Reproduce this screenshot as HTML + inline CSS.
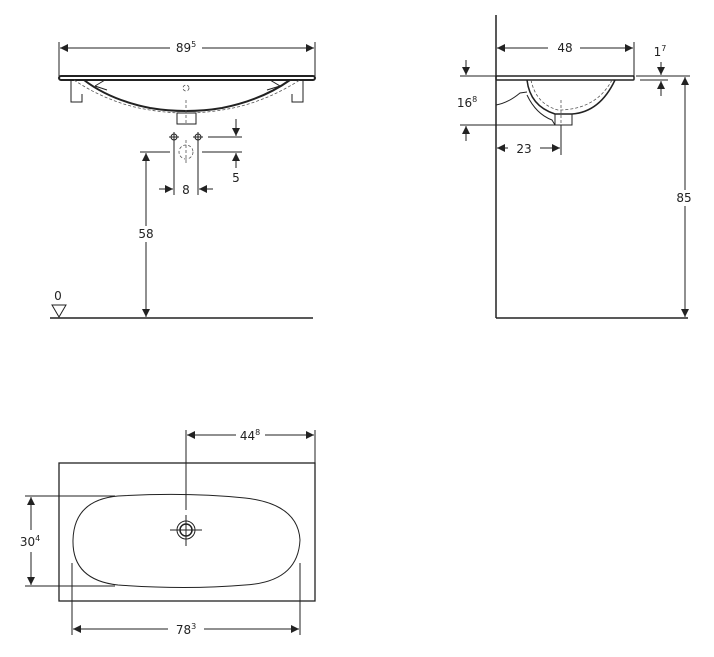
<!DOCTYPE html>
<html><head><meta charset="utf-8"><style>
html,body{margin:0;padding:0;background:#fff}
svg{display:block}
text{font-family:"DejaVu Sans","Liberation Sans",sans-serif;font-size:12px;fill:#222}
.t{stroke:#222;stroke-width:1;fill:none}
.k{stroke:#222;stroke-width:2;fill:none}
.d{stroke:#555;stroke-width:0.8;fill:none;stroke-dasharray:3 2}
</style></head><body>
<svg width="714" height="657" viewBox="0 0 714 657">
<defs>
<marker id="a" viewBox="0 0 10 10" refX="10" refY="5" markerWidth="10" markerHeight="8" orient="auto-start-reverse" markerUnits="userSpaceOnUse"><path d="M0,0L10,5L0,10z" fill="#222"/></marker>
</defs>
<rect width="714" height="657" fill="#fff"/>

<!-- FRONT VIEW -->
<line class="t" x1="59" y1="42" x2="59" y2="76"/><line class="t" x1="315" y1="42" x2="315" y2="76"/>
<line class="t" x1="60" y1="48" x2="170" y2="48" marker-start="url(#a)"/>
<line class="t" x1="202" y1="48" x2="314" y2="48" marker-end="url(#a)"/>
<text x="186" y="52" text-anchor="middle">89<tspan font-size="8" dy="-5">5</tspan></text>
<rect class="k" x="59" y="76" width="256" height="4" rx="2"/>
<path class="k" d="M84,80 Q110,100 150,108 Q186,114 222,108 Q262,100 290,80"/>
<path class="d" d="M74,80 Q110,104 150,110 Q186,116 222,110 Q262,104 300,80"/>
<path class="t" d="M71,80 L71,102 L82,102 L82,94 M68,100 M95,86 L105,80 M95,86 L107,90" />
<path class="t" d="M292,94 L292,102 L303,102 L303,80 M267,90 L280,86 L270,80"/>
<rect class="t" x="177" y="113" width="19" height="11"/>
<circle class="d" cx="186" cy="88" r="3"/>
<line class="d" x1="186" y1="100" x2="186" y2="124"/>
<g class="t"><circle cx="174" cy="137" r="3"/><line x1="169" y1="137" x2="179" y2="137"/><line x1="174" y1="132" x2="174" y2="142"/>
<circle cx="198" cy="137" r="3"/><line x1="193" y1="137" x2="203" y2="137"/><line x1="198" y1="132" x2="198" y2="142"/></g>
<circle class="d" cx="186" cy="152" r="7"/><line class="d" x1="186" y1="140" x2="186" y2="165"/>
<line class="t" x1="208" y1="137" x2="242" y2="137"/>
<line class="t" x1="236" y1="119" x2="236" y2="136" marker-end="url(#a)"/>
<line class="t" x1="140" y1="152" x2="170" y2="152"/><line class="t" x1="202" y1="152" x2="242" y2="152"/>
<line class="t" x1="236" y1="168" x2="236" y2="153" marker-end="url(#a)"/>
<text x="236" y="182" text-anchor="middle">5</text>
<line class="t" x1="174" y1="142" x2="174" y2="195"/><line class="t" x1="198" y1="142" x2="198" y2="195"/>
<line class="t" x1="159" y1="189" x2="173" y2="189" marker-end="url(#a)"/>
<line class="t" x1="213" y1="189" x2="199" y2="189" marker-end="url(#a)"/>
<text x="186" y="194" text-anchor="middle">8</text>
<line class="t" x1="146" y1="153" x2="146" y2="226" marker-start="url(#a)"/>
<line class="t" x1="146" y1="242" x2="146" y2="317" marker-end="url(#a)"/>
<text x="146" y="238" text-anchor="middle">58</text>
<line class="k" x1="50" y1="318" x2="313" y2="318" style="stroke-width:1.5"/>
<text x="58" y="300" text-anchor="middle">0</text>
<path class="t" d="M52,305 L66,305 L59,317 Z"/>

<!-- SIDE VIEW -->
<line class="k" x1="496" y1="15" x2="496" y2="318" style="stroke-width:1.5"/>
<line class="k" x1="496" y1="318" x2="688" y2="318" style="stroke-width:1.5"/>
<line class="t" x1="497" y1="48" x2="548" y2="48" marker-start="url(#a)"/>
<line class="t" x1="580" y1="48" x2="633" y2="48" marker-end="url(#a)"/>
<line class="t" x1="634" y1="42" x2="634" y2="76"/>
<text x="565" y="52" text-anchor="middle">48</text>
<rect class="k" x="496" y="76" width="138" height="4" rx="1" style="stroke-width:1.5"/>
<path class="k" d="M527,80 Q530,106 555,114 L572,114 Q600,112 615,80" style="stroke-width:1.5"/>
<path class="d" d="M531,80 Q536,104 558,110 Q596,110 612,80"/>
<path class="t" d="M496,105 Q508,103 520,93 L527,92"/>
<path class="t" d="M527,95 Q536,114 552,120 L555,125"/>
<rect class="t" x="555" y="114" width="17" height="11"/>
<line class="d" x1="561" y1="100" x2="561" y2="125"/>
<line class="t" x1="561" y1="125" x2="561" y2="155"/>
<line class="t" x1="497" y1="148" x2="508" y2="148" marker-start="url(#a)"/>
<line class="t" x1="540" y1="148" x2="560" y2="148" marker-end="url(#a)"/>
<text x="524" y="153" text-anchor="middle">23</text>
<line class="t" x1="460" y1="76" x2="496" y2="76"/>
<line class="t" x1="460" y1="125" x2="555" y2="125"/>
<line class="t" x1="466" y1="60" x2="466" y2="75" marker-end="url(#a)"/>
<line class="t" x1="466" y1="141" x2="466" y2="126" marker-end="url(#a)"/>
<text x="467" y="107" text-anchor="middle">16<tspan font-size="8" dy="-5">8</tspan></text>
<line class="t" x1="636" y1="76" x2="690" y2="76"/>
<line class="t" x1="640" y1="80" x2="668" y2="80"/>
<line class="t" x1="661" y1="62" x2="661" y2="75" marker-end="url(#a)"/>
<line class="t" x1="661" y1="96" x2="661" y2="81" marker-end="url(#a)"/>
<text x="660" y="56" text-anchor="middle">1<tspan font-size="8" dy="-5">7</tspan></text>
<line class="t" x1="685" y1="77" x2="685" y2="190" marker-start="url(#a)"/>
<line class="t" x1="685" y1="206" x2="685" y2="317" marker-end="url(#a)"/>
<text x="684" y="202" text-anchor="middle">85</text>

<!-- PLAN VIEW -->
<rect class="t" x="59" y="463" width="256" height="138" style="stroke-width:1.3"/>
<path class="t" d="M118,496 Q186,492 245,498 Q298,504 300,540 Q298,582 245,585 Q186,590 118,585 Q72,580 73,540 Q74,500 118,496 Z"/>
<line class="t" x1="186" y1="430" x2="186" y2="510"/>
<line class="t" x1="187" y1="435" x2="236" y2="435" marker-start="url(#a)"/>
<line class="t" x1="265" y1="435" x2="314" y2="435" marker-end="url(#a)"/>
<line class="t" x1="315" y1="430" x2="315" y2="463"/>
<text x="250" y="440" text-anchor="middle">44<tspan font-size="8" dy="-5">8</tspan></text>
<circle class="t" cx="186" cy="530" r="9"/><circle class="k" cx="186" cy="530" r="6" style="stroke-width:1.5"/>
<line class="t" x1="170" y1="530" x2="202" y2="530"/><line class="t" x1="186" y1="515" x2="186" y2="546"/>
<line class="t" x1="25" y1="496" x2="115" y2="496"/>
<line class="t" x1="25" y1="586" x2="115" y2="586"/>
<line class="t" x1="31" y1="497" x2="31" y2="530" marker-start="url(#a)"/>
<line class="t" x1="31" y1="552" x2="31" y2="585" marker-end="url(#a)"/>
<text x="30" y="546" text-anchor="middle">30<tspan font-size="8" dy="-5">4</tspan></text>
<line class="t" x1="72" y1="563" x2="72" y2="635"/><line class="t" x1="300" y1="563" x2="300" y2="635"/>
<line class="t" x1="73" y1="629" x2="168" y2="629" marker-start="url(#a)"/>
<line class="t" x1="204" y1="629" x2="299" y2="629" marker-end="url(#a)"/>
<text x="186" y="634" text-anchor="middle">78<tspan font-size="8" dy="-5">3</tspan></text>
</svg>
</body></html>
